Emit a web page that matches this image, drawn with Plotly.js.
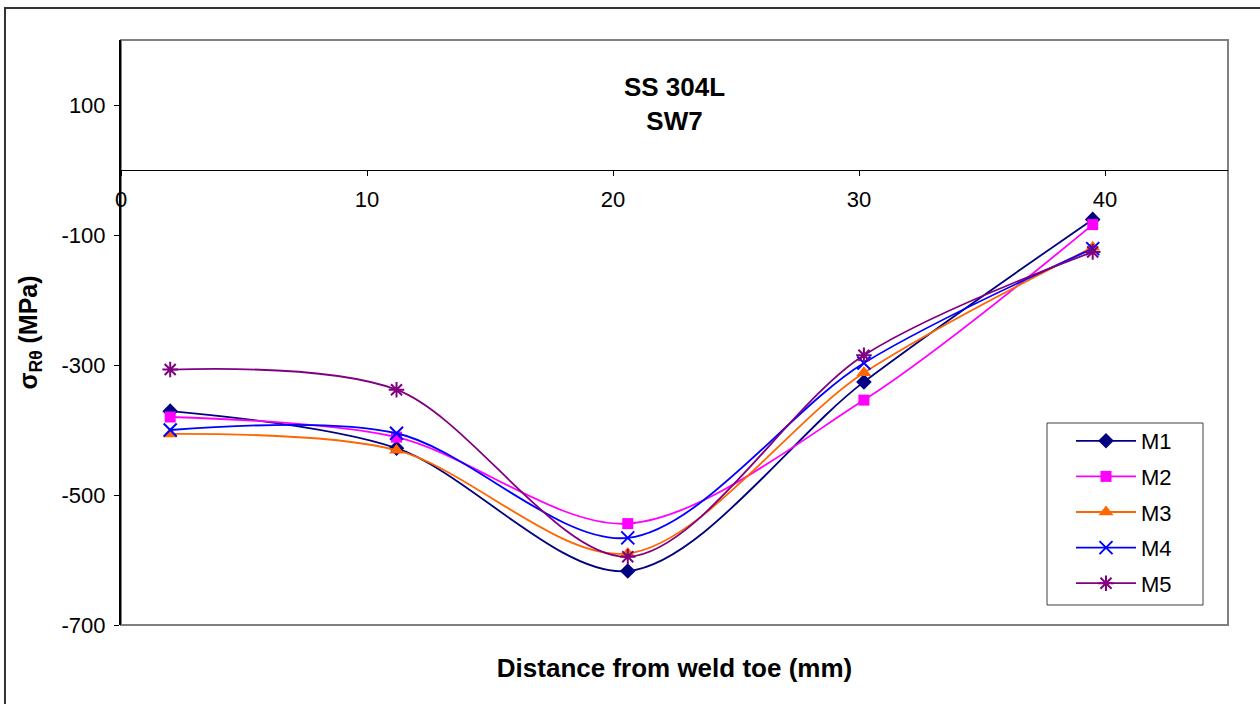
<!DOCTYPE html>
<html>
<head>
<meta charset="utf-8">
<script src="https://cdn.plot.ly/plotly-3.0.1.min.js"></script>
<style>html,body{margin:0;padding:0;background:#fff;}#chart{width:1260px;height:704px;}</style>
</head>
<body>
<div id="chart"></div>
<script>
const distance = [2.0, 11.2, 20.6, 30.2, 39.5];
const seriesNames = ["M1", "M2", "M3", "M4", "M5"];
const M1 = [-371, -428, -617, -326, -76];
const M2 = [-380, -411, -544, -354, -84];
const M3 = [-406, -431, -590, -312, -119];
const M4 = [-400, -405, -566, -297, -121];
const M5 = [-307, -338, -595, -285, -126];
const yTicks = [-700, -500, -300, -100, 100];
const xTicks = [0, 10, 20, 30, 40];

const values = [M1, M2, M3, M4, M5];
const colors = ["#000080", "#FF00FF", "#FF6600", "#0000FF", "#800080"];
const symbols = ["diamond", "square", "triangle-up", "x-thin-open", "asterisk-open"];
const sizes = [12, 11, 13, 13, 13];

const traces = seriesNames.map((name, i) => ({
  type: "scatter",
  mode: "lines+markers",
  name: name,
  x: distance,
  y: values[i],
  legendgroup: name,
  line: {color: colors[i], width: 1.8, shape: "spline", smoothing: 0.9},
  marker: {symbol: symbols[i], size: sizes[i], color: colors[i],
           line: {color: colors[i], width: (i >= 3 ? 2 : 0)}}
}));

const font = "Arial, 'Liberation Sans', sans-serif";
const lgL = 0.8365, lgR = (1203 - 121) / 1107, lgB = (625 - 605) / 585, lgT = (625 - 423) / 585;

const layout = {
  width: 1260, height: 704,
  margin: {l: 121, r: 32, t: 40, b: 79},
  paper_bgcolor: "#ffffff", plot_bgcolor: "#ffffff",
  font: {family: font, size: 22, color: "#000"},
  title: {text: "<b>SS 304L<br>SW7</b>", x: 0.5, xref: "paper", xanchor: "center",
          y: 1 - 96/704, yref: "container", yanchor: "middle",
          font: {family: font, size: 26, color: "#000"}},
  showlegend: true,
  legend: {x: (1071 - 121) / 1107, y: (625 - 420) / 585, xanchor: "left", yanchor: "top",
           bgcolor: "rgba(0,0,0,0)", borderwidth: 0,
           font: {family: font, size: 22, color: "#000"},
           traceorder: "grouped", tracegroupgap: 4, itemwidth: 60},
  xaxis: {
    range: [0, 45], tickvals: xTicks, ticktext: xTicks.map(String),
    anchor: "free", position: 700/900,
    showgrid: false, zeroline: false, showline: true, linecolor: "#000", linewidth: 1,
    ticks: "outside", ticklen: 5, tickcolor: "#000", ticklabelstandoff: 5,
    tickfont: {family: font, size: 22, color: "#000"},
    title: {text: "<b>Distance from weld toe (mm)</b>", standoff: 447,
            font: {family: font, size: 26, color: "#000"}}
  },
  yaxis: {
    range: [-700, 200], tickvals: yTicks, ticktext: yTicks.map(String),
    showgrid: false, zeroline: false, showline: true, linecolor: "#000", linewidth: 2,
    ticks: "outside", ticklen: 5, tickcolor: "#000", ticklabelstandoff: 4,
    tickfont: {family: font, size: 22, color: "#000"},
    title: {text: "<b>σ<sub>Rθ</sub> (MPa)</b>", standoff: 17,
            font: {family: font, size: 25, color: "#000"}}
  },
  shapes: [
    {type: "rect", xref: "paper", yref: "paper", x0: 0, x1: 1, y0: 0, y1: 1,
     line: {color: "#808080", width: 2}, layer: "below"},
    {type: "rect", xref: "paper", yref: "paper", x0: -0.1048, x1: 1.2, y0: -0.3, y1: 1.0547,
     line: {color: "#333333", width: 2}, layer: "below"},
    {type: "rect", xref: "paper", yref: "paper", x0: lgL, x1: lgR, y0: lgB, y1: lgT,
     fillcolor: "#ffffff", line: {color: "#404040", width: 1}, layer: "above"}
  ]
};

Plotly.newPlot("chart", traces, layout, {displayModeBar: false, staticPlot: true});
</script>
</body>
</html>
